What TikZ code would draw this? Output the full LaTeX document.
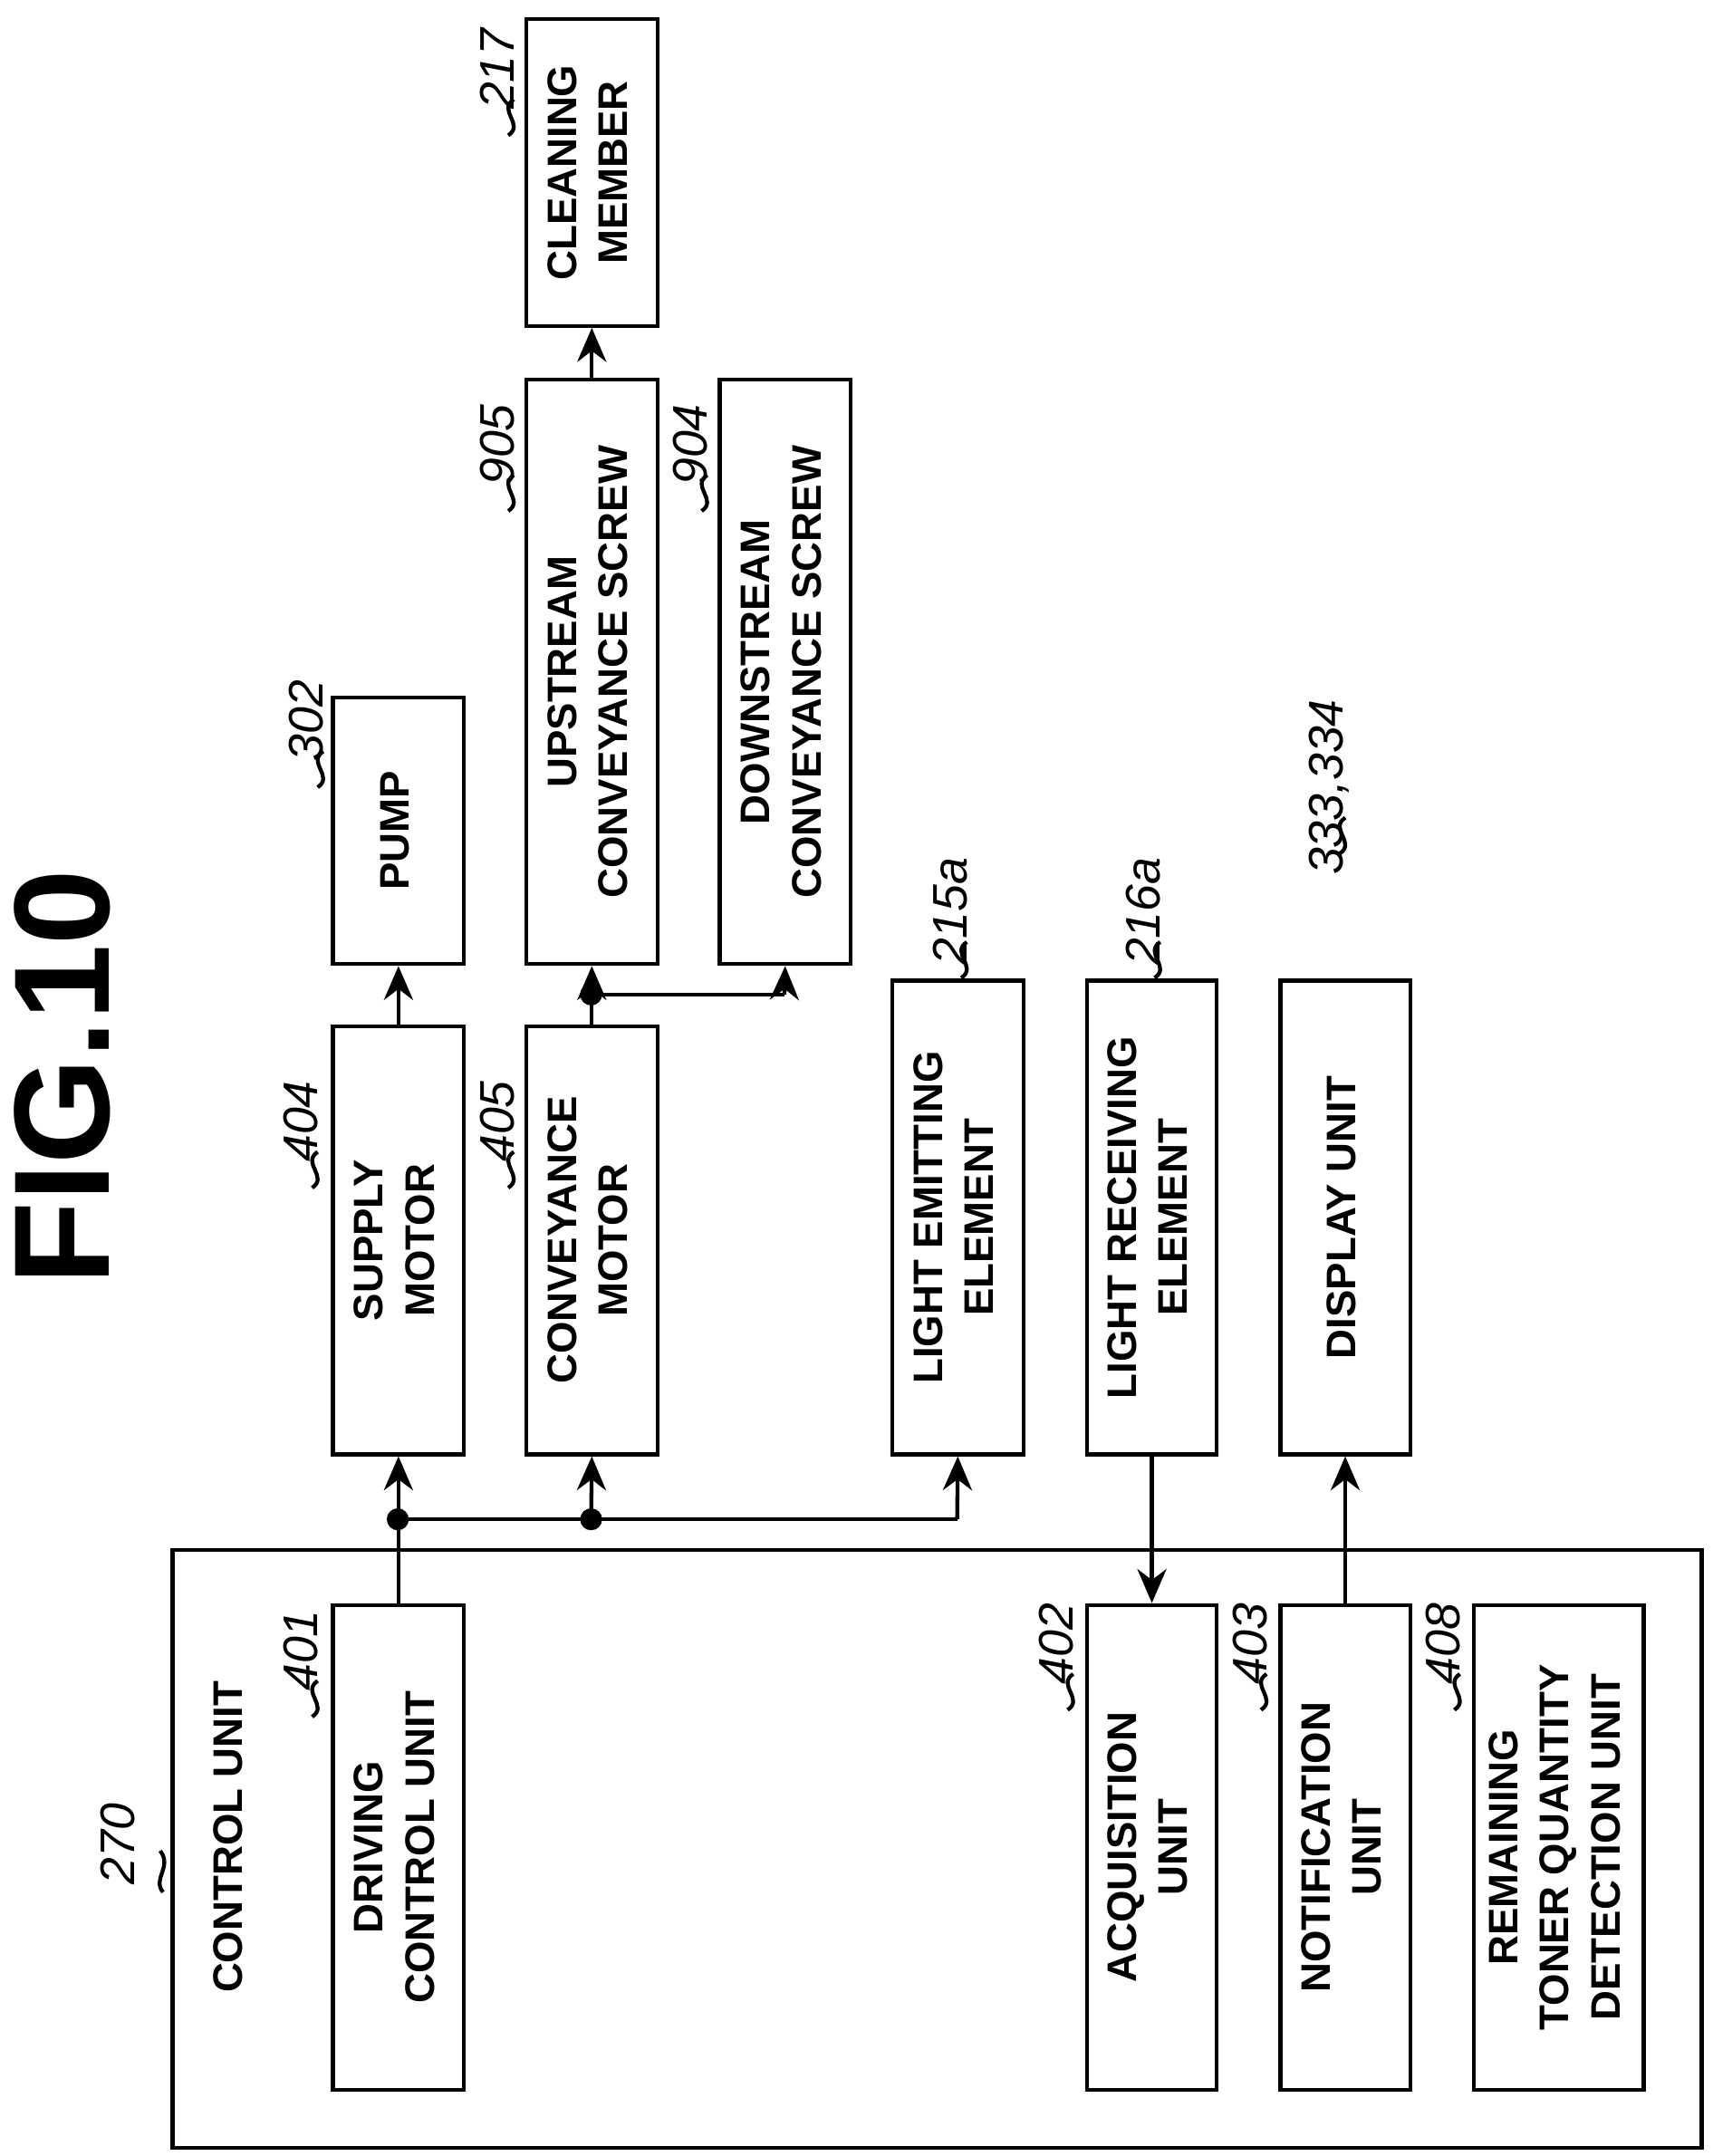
\documentclass[tikz,border=0pt]{standalone}
\usepackage{fontspec}
\setmainfont{Liberation Sans}
\usetikzlibrary{arrows.meta}
\newcommand\bx[6]{\node[box,minimum width={(#4-#2)*0.01cm},minimum height={(#5-#3)*0.01cm}] (#1) at ({(#2+#4)/2},{(#3+#5)/2}) {\rotatebox{90}{\begin{tabular}{@{}c@{}}#6\end{tabular}}};}
\newcommand\lbl[3]{\node[rotate=90,font=\fontsize{10}{12}\selectfont\itshape] at (#1,#2) {#3};
\draw[thick] (#1+8,#2+48) .. controls (#1+20,#2+40) and (#1+0,#2+30) .. (#1+12,#2+22);}
\begin{document}
\begin{tikzpicture}[x=0.01cm,y=-0.01cm,
 box/.style={draw,thick,inner sep=0pt,font=\fontsize{8.5}{10.5}\selectfont\bfseries},
 arr/.style={thick,-{Stealth[length=7pt,width=6pt]}},
 dot/.style={circle,fill,inner sep=1.6pt}]
\useasboundingbox (0,0) rectangle (1240,1561);
\node[rotate=90,font=\fontsize{28}{30}\selectfont\bfseries] at (45,780) {FIG.10};
\draw[thick] (125,1122) rectangle (1232,1555);
\node[rotate=90,font=\fontsize{8.5}{10}\selectfont\bfseries] (cu) at (165,1330) {CONTROL UNIT};
\bx{dcu}{241}{1162}{336}{1513}{DRIVING\\CONTROL UNIT}
\bx{acq}{787}{1162}{881}{1513}{ACQUISITION\\UNIT}
\bx{noti}{927}{1162}{1021}{1513}{NOTIFICATION\\UNIT}
\bx{rem}{1067}{1162}{1190}{1513}{REMAINING\\TONER QUANTITY\\DETECTION UNIT}
\bx{sm}{241}{743}{336}{1053}{SUPPLY\\MOTOR}
\bx{cm}{381}{743}{476}{1053}{CONVEYANCE\\MOTOR}
\bx{le}{646}{710}{741}{1053}{LIGHT EMITTING\\ELEMENT}
\bx{lr}{787}{710}{881}{1053}{LIGHT RECEIVING\\ELEMENT}
\bx{du}{927}{710}{1021}{1053}{DISPLAY UNIT}
\bx{pump}{241}{505}{336}{698}{PUMP}
\bx{up}{381}{275}{476}{698}{UPSTREAM\\CONVEYANCE SCREW}
\bx{down}{521}{275}{616}{698}{DOWNSTREAM\\CONVEYANCE SCREW}
\bx{clean}{381}{14}{476}{236}{CLEANING\\MEMBER}
% connectors
\coordinate (j1) at (288,1100);
\coordinate (j2) at (428,1100);
\coordinate (j3) at (693,1100);
\coordinate (j4) at (428,720);
\coordinate (j5) at (568,720);
\draw[arr] (dcu.north) -- (sm.south);
\draw[thick] (j1) -- (j3);
\draw[arr] (j2) -- (cm.south);
\draw[arr] (j3) -- (le.south);
\node[dot] at (j1) {}; \node[dot] at (j2) {};
\draw[arr] (lr.south) -- (acq.north);
\draw[arr] (noti.north) -- (du.south);
\draw[arr] (sm.north) -- (pump.south);
\draw[arr] (cm.north) -- (up.south);
\draw[thick] (j4) -- (j5);
\draw[arr] (j5) -- (down.south);
\node[dot] at (j4) {};
\draw[arr] (up.north) -- (clean.south);
% labels
\node[rotate=90,font=\fontsize{10}{12}\selectfont\itshape] at (85,1335) {270};
\draw[thick] (118,1370) .. controls (110,1360) and (125,1352) .. (116,1340);
\lbl{218}{1195}{401}
\lbl{218}{812}{404}
\lbl{360}{812}{405}
\lbl{222}{522}{302}
\lbl{360}{322}{905}
\lbl{500}{322}{904}
\lbl{360}{50}{217}
\lbl{688}{660}{215a}
\lbl{828}{660}{216a}
\lbl{962}{570}{333,334}
\lbl{765}{1190}{402}
\lbl{905}{1190}{403}
\lbl{1045}{1190}{408}
\end{tikzpicture}
\end{document}
